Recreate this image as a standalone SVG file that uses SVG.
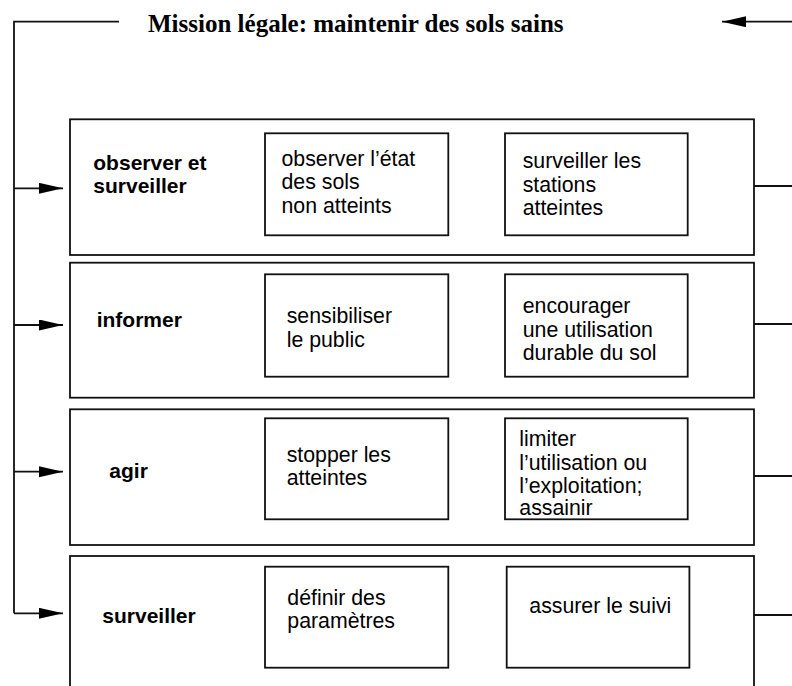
<svg xmlns="http://www.w3.org/2000/svg" width="792" height="686" viewBox="0 0 792 686">
  <style>
    .outer { fill: #fff; stroke: #111; stroke-width: 1.8; }
    .inner { fill: #fff; stroke: #111; stroke-width: 1.8; }
    .line { fill: none; stroke: #111; stroke-width: 1.8; }
    .lbl { font-family: "Liberation Sans", Arial, sans-serif; font-size: 21px; font-weight: bold; fill: #000; }
    .txt { font-family: "Liberation Sans", Arial, sans-serif; font-size: 21.3px; fill: #000; }
    .title { font-family: "Liberation Serif", "Times New Roman", serif; font-size: 25px; font-weight: bold; fill: #000; }
  </style>
  <defs>
    <marker id="arr" markerUnits="userSpaceOnUse" markerWidth="25" markerHeight="12" refX="24" refY="5.5" orient="auto">
      <path d="M0,0 L24,5.5 L0,11 Z" fill="#000"/>
    </marker>
  </defs>
  <rect width="792" height="686" fill="#fff"/>

  <text class="title" x="148" y="31.7">Mission légale: maintenir des sols sains</text>

  <g id="connectors">
    <path class="line" d="M119,21.7 H14 V613.3"/>
    <path class="line" d="M792,21.7 H722" marker-end="url(#arr)"/>
    <path class="line" d="M14,188.3 H63" marker-end="url(#arr)"/>
    <path class="line" d="M14,325 H63" marker-end="url(#arr)"/>
    <path class="line" d="M14,471.7 H63" marker-end="url(#arr)"/>
    <path class="line" d="M14,613.3 H63" marker-end="url(#arr)"/>
    <path class="line" d="M754,186 H792"/>
    <path class="line" d="M754,324 H792"/>
    <path class="line" d="M754,476 H792"/>
    <path class="line" d="M754,615 H792"/>
  </g>

  <g id="observer-surveiller">
    <rect class="outer" x="70" y="119.3" width="684" height="135.7"/>
    <text class="lbl" x="93.3" y="170">observer et</text>
    <text class="lbl" x="93.3" y="193.3">surveiller</text>
    <g id="observer-etat">
      <rect class="inner" x="265" y="133.3" width="183.3" height="102"/>
      <text class="txt" x="281.5" y="165.7">observer l’état</text>
      <text class="txt" x="281.5" y="189.3">des sols</text>
      <text class="txt" x="281.5" y="213.3">non atteints</text>
    </g>
    <g id="surveiller-stations">
      <rect class="inner" x="505" y="133.3" width="182.7" height="102"/>
      <text class="txt" x="522.7" y="168">surveiller les</text>
      <text class="txt" x="522.7" y="191.5">stations</text>
      <text class="txt" x="522.7" y="214.5">atteintes</text>
    </g>
  </g>

  <g id="informer">
    <rect class="outer" x="70" y="262.7" width="684" height="135"/>
    <text class="lbl" x="96.7" y="327.3">informer</text>
    <g id="sensibiliser">
      <rect class="inner" x="265" y="274.3" width="183.3" height="102.4"/>
      <text class="txt" x="286.7" y="323.3">sensibiliser</text>
      <text class="txt" x="286.7" y="346.7">le public</text>
    </g>
    <g id="encourager">
      <rect class="inner" x="505" y="274.3" width="182.7" height="102.4"/>
      <text class="txt" x="522.7" y="312.7">encourager</text>
      <text class="txt" x="522.7" y="336.5">une utilisation</text>
      <text class="txt" x="522.7" y="360">durable du sol</text>
    </g>
  </g>

  <g id="agir">
    <rect class="outer" x="70" y="409.3" width="684" height="135.7"/>
    <text class="lbl" x="109.3" y="478.3">agir</text>
    <g id="stopper">
      <rect class="inner" x="265" y="418.3" width="183.3" height="101"/>
      <text class="txt" x="286.7" y="461.7">stopper les</text>
      <text class="txt" x="286.7" y="485">atteintes</text>
    </g>
    <g id="limiter">
      <rect class="inner" x="505" y="418.3" width="182.7" height="101"/>
      <text class="txt" x="519.3" y="446">limiter</text>
      <text class="txt" x="519.3" y="469.5">l’utilisation ou</text>
      <text class="txt" x="519.3" y="493">l’exploitation;</text>
      <text class="txt" x="519.3" y="515">assainir</text>
    </g>
  </g>

  <g id="surveiller">
    <rect class="outer" x="70" y="556" width="684" height="150"/>
    <text class="lbl" x="102.3" y="622.7">surveiller</text>
    <g id="definir">
      <rect class="inner" x="265" y="566.7" width="183.3" height="101"/>
      <text class="txt" x="287.3" y="605">définir des</text>
      <text class="txt" x="287.3" y="628.3">paramètres</text>
    </g>
    <g id="assurer">
      <rect class="inner" x="506.7" y="566.7" width="182.7" height="101"/>
      <text class="txt" x="529.3" y="613.3">assurer le suivi</text>
    </g>
  </g>
</svg>
